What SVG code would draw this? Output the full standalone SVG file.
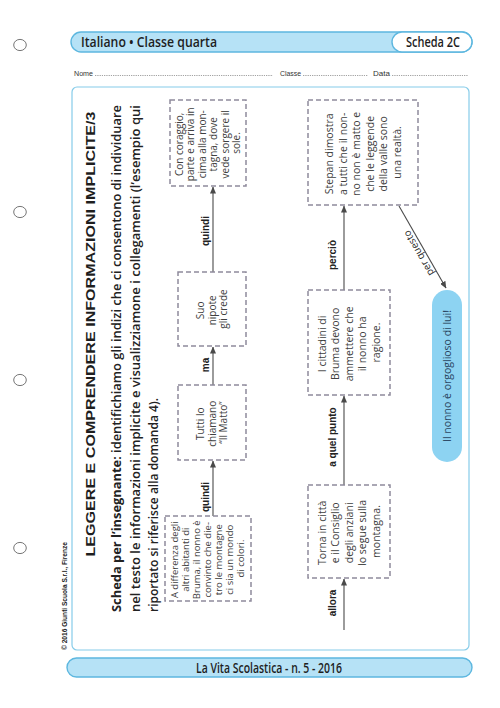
<svg xmlns="http://www.w3.org/2000/svg" width="500" height="708" viewBox="0 0 500 708">
<style>
.hole{fill:none;stroke:#666;stroke-width:0.9}
.bar{fill:#b6e2f6;stroke:#5db7df;stroke-width:1.4}
.hdr{font-family:"Open Sans","Liberation Sans",sans-serif;font-size:13.5px;font-weight:600;fill:#1e1e1e}
.small{font-family:"Liberation Sans",Arial,sans-serif;font-size:7px;fill:#333}
.dots{stroke:#444;stroke-width:0.7;stroke-dasharray:0.7 1.1}
.frame{fill:#fff;stroke:#86cce9;stroke-width:1.2}
.box{fill:#fff;stroke:#8f8a9c;stroke-width:1.5;stroke-dasharray:5 3}
.bt{font-family:"Open Sans","Noto Sans",sans-serif;font-size:9.5px;fill:#404040;text-anchor:middle}
.bt1{font-family:"Open Sans","Noto Sans",sans-serif;font-size:10px;fill:#404040;text-anchor:middle}
.bt2{font-family:"Open Sans","Noto Sans",sans-serif;font-size:10.5px;fill:#404040;text-anchor:middle}
.lab{font-family:"Liberation Sans",Arial,sans-serif;font-size:10px;font-weight:bold;fill:#222;text-anchor:middle}
.conn{stroke:#4a4a4a;stroke-width:1.1;fill:none;marker-end:url(#ah)}
.para{font-family:"Open Sans","Liberation Sans",sans-serif;font-size:12.5px;font-weight:600;fill:#222}
</style>
<defs>
<marker id="ah" markerWidth="7" markerHeight="6" refX="6.5" refY="3" orient="auto" markerUnits="userSpaceOnUse">
<path d="M0,0 L7,3 L0,6 z" fill="#4a4a4a"/>
</marker>
</defs>
<rect width="500" height="708" fill="#fff"/>
<g id="holes">
<ellipse class="hole" cx="20" cy="45" rx="6.3" ry="5.6"/>
<ellipse class="hole" cx="20" cy="212" rx="6.3" ry="5.6"/>
<ellipse class="hole" cx="20" cy="380" rx="6.3" ry="5.6"/>
<ellipse class="hole" cx="20" cy="548" rx="6.3" ry="5.6"/>
</g>
<g id="header">
<rect class="bar" x="71" y="32" width="401" height="20" rx="10"/>
<rect x="392" y="32" width="80" height="20" rx="10" fill="#fff" stroke="#5db7df" stroke-width="1.4"/>
<text class="hdr" x="81" y="46.5" textLength="136" lengthAdjust="spacingAndGlyphs">Italiano • Classe quarta</text>
<text class="hdr" x="433" y="46.5" text-anchor="middle" textLength="54" lengthAdjust="spacingAndGlyphs">Scheda 2C</text>
</g>
<g id="nameline">
<text class="small" x="74" y="75.5" textLength="19" lengthAdjust="spacingAndGlyphs">Nome</text>
<line class="dots" x1="95" y1="75.5" x2="273" y2="75.5"/>
<text class="small" x="280" y="75.5" textLength="21" lengthAdjust="spacingAndGlyphs">Classe</text>
<line class="dots" x1="303" y1="75.5" x2="368" y2="75.5"/>
<text class="small" x="373" y="75.5" textLength="17" lengthAdjust="spacingAndGlyphs">Data</text>
<line class="dots" x1="392" y1="75.5" x2="468" y2="75.5"/>
</g>
<rect id="frame" class="frame" x="72" y="87" width="397" height="563" rx="5"/>
<text transform="translate(67,650) rotate(-90)" font-family="Liberation Sans, Arial, sans-serif" font-size="6.5" font-weight="bold" fill="#222" textLength="108" lengthAdjust="spacingAndGlyphs">© 2016 Giunti Scuola S.r.l., Firenze</text>
<g id="footer">
<rect class="bar" x="67" y="658" width="405" height="19" rx="9.5"/>
<text class="hdr" x="269" y="672.5" text-anchor="middle" textLength="146" lengthAdjust="spacingAndGlyphs">La Vita Scolastica - n. 5 - 2016</text>
</g>
<g id="title">
<text transform="translate(95,334) rotate(-90)" text-anchor="middle" font-family="Liberation Sans, Arial, sans-serif" font-size="13.5" font-weight="bold" fill="#1e1e1e" textLength="445" lengthAdjust="spacingAndGlyphs">LEGGERE E COMPRENDERE INFORMAZIONI IMPLICITE/3</text>
</g>
<g id="intro">
<text class="para" transform="translate(121,612) rotate(-90)" textLength="507" lengthAdjust="spacingAndGlyphs"><tspan font-weight="bold">Scheda per l’insegnante</tspan>: identifichiamo gli indizi che ci consentono di individuare</text>
<text class="para" transform="translate(139.5,612) rotate(-90)" textLength="507" lengthAdjust="spacingAndGlyphs">nel testo le informazioni implicite e visualizziamone i collegamenti (l’esempio qui</text>
<text class="para" transform="translate(158,612) rotate(-90)" textLength="214" lengthAdjust="spacingAndGlyphs">riportato si riferisce alla domanda 4).</text>
</g>
<g id="connectors">
<line class="conn" x1="213" y1="516" x2="213" y2="461"/>
<text class="lab" transform="translate(209,497) rotate(-90)">quindi</text>
<line class="conn" x1="213" y1="385" x2="213" y2="347"/>
<text class="lab" transform="translate(209,365) rotate(-90)">ma</text>
<line class="conn" x1="213" y1="272" x2="213" y2="187"/>
<text class="lab" transform="translate(209,231) rotate(-90)">quindi</text>
<line class="conn" x1="344" y1="630" x2="344" y2="579"/>
<text class="lab" transform="translate(336,603) rotate(-90)">allora</text>
<line class="conn" x1="344" y1="485" x2="344" y2="396"/>
<text class="lab" transform="translate(336,437) rotate(-90)">a quel punto</text>
<line class="conn" x1="344" y1="290" x2="344" y2="206"/>
<text class="lab" transform="translate(336,255) rotate(-90)">perciò</text>
<line class="conn" x1="399" y1="206" x2="446" y2="288"/>
<text transform="translate(421.6,251.5) rotate(-119.8)" text-anchor="middle" font-family="Open Sans, Noto Sans, sans-serif" font-size="10" fill="#2a2a2a">per questo</text>
</g>
<g id="boxA">
<rect class="box" x="165" y="516" width="86" height="85"/>
<text class="bt" transform="translate(208,558.5) rotate(-90)">
<tspan x="0" y="-29.7">A differenza degli</tspan>
<tspan x="0" y="-18.7">altri abitanti di</tspan>
<tspan x="0" y="-7.7">Bruma, il nonno è</tspan>
<tspan x="0" y="3.3">convinto che die-</tspan>
<tspan x="0" y="14.3">tro le montagne</tspan>
<tspan x="0" y="25.3">ci sia un mondo</tspan>
<tspan x="0" y="36.3">di colori.</tspan>
</text>
</g>
<g id="boxC">
<rect class="box" x="178" y="385" width="68" height="75"/>
<text class="bt1" transform="translate(212,422.5) rotate(-90)">
<tspan x="0" y="-8">Tutti lo</tspan>
<tspan x="0" y="3.5">chiamano</tspan>
<tspan x="0" y="15">“Il Matto”</tspan>
</text>
</g>
<g id="boxD">
<rect class="box" x="178" y="272" width="68" height="74"/>
<text class="bt1" transform="translate(212,309) rotate(-90)">
<tspan x="0" y="-8">Suo</tspan>
<tspan x="0" y="3.5">nipote</tspan>
<tspan x="0" y="15">gli crede</tspan>
</text>
</g>
<g id="boxE">
<rect class="box" x="170" y="100" width="76" height="86"/>
<text class="bt1" transform="translate(208,143) rotate(-90)">
<tspan x="0" y="-25">Con coraggio,</tspan>
<tspan x="0" y="-13.6">parte e arriva in</tspan>
<tspan x="0" y="-2.2">cima alla mon-</tspan>
<tspan x="0" y="9.2">tagna, dove</tspan>
<tspan x="0" y="20.6">vede sorgere il</tspan>
<tspan x="0" y="32">sole.</tspan>
</text>
</g>
<g id="boxTorna">
<rect class="box" x="308" y="485" width="82" height="93"/>
<text class="bt2" transform="translate(349,531.5) rotate(-90)">
<tspan x="0" y="-23.3">Torna in città</tspan>
<tspan x="0" y="-9.8">e il Consiglio</tspan>
<tspan x="0" y="3.7">degli anziani</tspan>
<tspan x="0" y="17.2">lo segue sulla</tspan>
<tspan x="0" y="30.7">montagna.</tspan>
</text>
</g>
<g id="boxCittadini">
<rect class="box" x="308" y="290" width="82" height="105"/>
<text class="bt2" transform="translate(349,342.5) rotate(-90)">
<tspan x="0" y="-23.3">I cittadini di</tspan>
<tspan x="0" y="-9.8">Bruma devono</tspan>
<tspan x="0" y="3.7">ammettere che</tspan>
<tspan x="0" y="17.2">il nonno ha</tspan>
<tspan x="0" y="30.7">ragione.</tspan>
</text>
</g>
<g id="boxStepan">
<rect class="box" x="308" y="100" width="110" height="105"/>
<text class="bt2" transform="translate(363,152.5) rotate(-90)">
<tspan x="0" y="-30">Stepan dimostra</tspan>
<tspan x="0" y="-16.5">a tutti che il non-</tspan>
<tspan x="0" y="-3">no non è matto e</tspan>
<tspan x="0" y="10.5">che le leggende</tspan>
<tspan x="0" y="24">della valle sono</tspan>
<tspan x="0" y="37.5">una realtà.</tspan>
</text>
</g>
<g id="pill">
<rect x="432" y="290" width="30" height="172" rx="15" fill="#8dd3f2"/>
<text transform="translate(450.5,376) rotate(-90)" text-anchor="middle" font-family="Open Sans, Noto Sans, sans-serif" font-size="10.5" fill="#2a4560">Il nonno è orgoglioso di lui!</text>
</g>
</svg>
